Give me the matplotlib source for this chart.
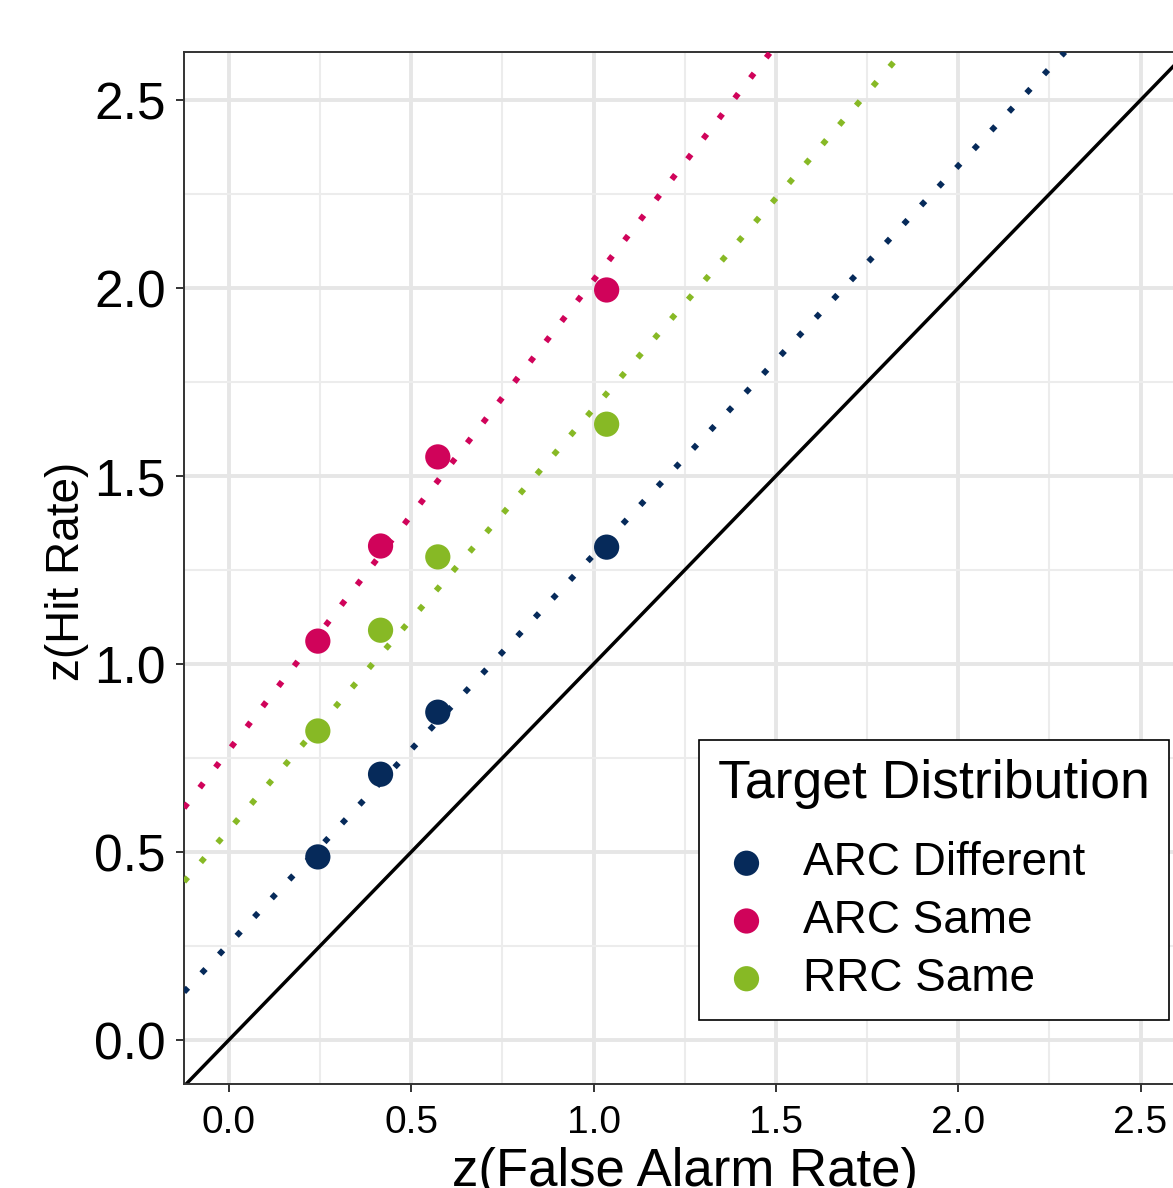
import matplotlib
matplotlib.use('Agg')
import matplotlib.pyplot as plt
from matplotlib.ticker import MultipleLocator

plt.rcParams['font.family'] = ['Liberation Sans', 'DejaVu Sans']

# z-transformed false alarm rates (shared across conditions)
z_fa = [0.244, 0.416, 0.573, 1.036]

# z-transformed hit rates per target distribution
groups = ['ARC Different', 'ARC Same', 'RRC Same']
z_hit = {
    'ARC Different': [0.487, 0.707, 0.872, 1.311],
    'ARC Same': [1.061, 1.314, 1.551, 1.995],
    'RRC Same': [0.822, 1.090, 1.285, 1.638],
}

# model z-ROC lines (intercept, slope)
line_intercepts = [0.255, 0.771, 0.559]
line_slopes = [1.035, 1.25, 1.12]

colors = ['#062a5a', '#d0035a', '#87b925']

fig = plt.figure(figsize=(11.73, 11.88), dpi=100)
ax = fig.add_axes([184 / 1173, (1188 - 1084) / 1188, 1001 / 1173, 1032 / 1188])

ax.set_xlim(-0.123, 2.622)
ax.set_ylim(-0.117, 2.628)

# grid, theme_bw style
ax.xaxis.set_major_locator(MultipleLocator(0.5))
ax.yaxis.set_major_locator(MultipleLocator(0.5))
ax.xaxis.set_minor_locator(MultipleLocator(0.25))
ax.yaxis.set_minor_locator(MultipleLocator(0.25))
ax.grid(which='major', color='#e6e6e6', linewidth=2.8, zorder=0)
ax.grid(which='minor', color='#ececec', linewidth=1.5, zorder=0)
ax.set_axisbelow(True)

for sp in ax.spines.values():
    sp.set_color('#333333')
    sp.set_linewidth(1.4)

ax.tick_params(which='major', length=6, width=1.4, color='#333333', direction='out')
ax.tick_params(which='minor', length=0)
ax.tick_params(axis='x', labelsize=28, pad=9)
ax.tick_params(axis='y', labelsize=37, pad=7)
ax.xaxis.set_major_formatter(matplotlib.ticker.FormatStrFormatter('%.1f'))
ax.yaxis.set_major_formatter(matplotlib.ticker.FormatStrFormatter('%.1f'))

# chance line
ax.axline((0, 0), slope=1, color='black', linewidth=2.5, zorder=2)

# model lines
for b, m, c in zip(line_intercepts, line_slopes, colors):
    ax.axline((0, b), slope=m, color=c, linewidth=4.2,
              linestyle=(0, (1, 3.4)), zorder=3)

# observed points
handles = []
for g, c in zip(groups, colors):
    h = ax.scatter(z_fa, z_hit[g], s=330, color=c, edgecolors='none', zorder=4, label=g)
    handles.append(h)

leg = ax.legend(handles=handles, labels=groups, title='Target Distribution',
                loc='lower right', bbox_to_anchor=(0.984, 0.062), borderaxespad=0,
                fontsize=33, title_fontsize=38.5, frameon=True, fancybox=False,
                edgecolor='black', handlelength=1.25, handletextpad=0.61,
                labelspacing=0.3, borderpad=0.42, alignment='left')
leg.get_frame().set_linewidth(1.2)
leg.get_frame().set_alpha(1)
# extra room between the legend title and its entries
leg._legend_box.sep = 0.3 * 33 + 13

fig.text(685 / 1173, (1188 - 1186) / 1188, 'z(False Alarm Rate)', fontsize=38,
         ha='center', va='baseline')
fig.text(67 / 1173, (1188 - 571) / 1188, 'z(Hit Rate)', fontsize=33,
         ha='center', va='center', rotation=90)

fig.savefig('out.png', dpi=100)
